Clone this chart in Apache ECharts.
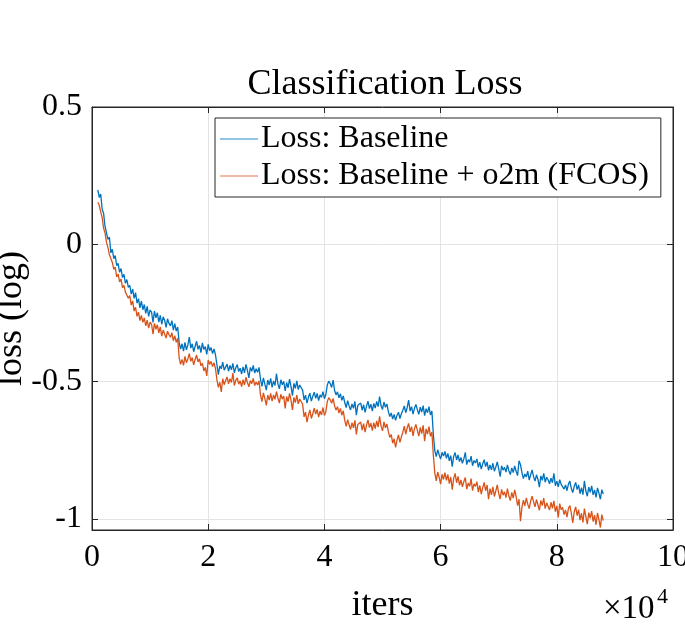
<!DOCTYPE html>
<html>
<head>
<meta charset="utf-8">
<script src="https://cdn.jsdelivr.net/npm/echarts@6/dist/echarts.min.js"></script>
<style>
  html, body { margin: 0; padding: 0; background: #fff; }
  #main { width: 685px; height: 626px; }
</style>
</head>
<body>
<div id="main"></div>
<script>
// 分类损失曲线 (MATLAB 风格)

var iterStart = 1000;
var iterStep = 250;

var seriesNames = ['Loss: Baseline', 'Loss: Baseline + o2m (FCOS)'];

var yTicks = [-1, -0.5, 0, 0.5];

// Loss: Baseline  (每行 10 个点, 即 2500 iters)
var lossBaseline = [
  0.198, 0.171, 0.183, 0.128, 0.112, 0.064, 0.071, 0.018, 0.026, -0.031,
  -0.018, -0.052, -0.041, -0.078, -0.069, -0.102, -0.088, -0.121, -0.109, -0.142,
  -0.128, -0.157, -0.149, -0.181, -0.163, -0.197, -0.176, -0.214, -0.198, -0.231,
  -0.207, -0.238, -0.219, -0.251, -0.226, -0.262, -0.239, -0.247, -0.284, -0.243,
  -0.268, -0.249, -0.283, -0.259, -0.291, -0.264, -0.276, -0.302, -0.271, -0.288,
  -0.297, -0.278, -0.312, -0.289, -0.316, -0.301, -0.358, -0.381, -0.362, -0.389,
  -0.357, -0.384, -0.366, -0.338, -0.378, -0.362, -0.391, -0.371, -0.353, -0.382,
  -0.368, -0.394, -0.359, -0.383, -0.372, -0.401, -0.364, -0.387, -0.376, -0.398,
  -0.381, -0.402, -0.438, -0.474, -0.442, -0.453, -0.429, -0.458, -0.447, -0.436,
  -0.462, -0.441, -0.457, -0.433, -0.468, -0.449, -0.438, -0.463, -0.451, -0.472,
  -0.446, -0.468, -0.437, -0.459, -0.486, -0.448, -0.462, -0.441, -0.469, -0.453,
  -0.466, -0.448, -0.492, -0.517, -0.486, -0.509, -0.531, -0.494, -0.512, -0.488,
  -0.521, -0.497, -0.514, -0.471, -0.508, -0.526, -0.493, -0.511, -0.499, -0.534,
  -0.503, -0.522, -0.491, -0.517, -0.551, -0.506, -0.524, -0.497, -0.529, -0.512,
  -0.518, -0.531, -0.566, -0.549, -0.578, -0.557, -0.542, -0.571, -0.553, -0.538,
  -0.561, -0.543, -0.569, -0.548, -0.557, -0.536, -0.562, -0.547, -0.512, -0.498,
  -0.507, -0.521, -0.494, -0.532, -0.548, -0.537, -0.559, -0.544, -0.568, -0.552,
  -0.576, -0.594, -0.569, -0.588, -0.603, -0.581, -0.597, -0.572, -0.622, -0.586,
  -0.593, -0.578, -0.604, -0.584, -0.612, -0.589, -0.571, -0.598, -0.582, -0.607,
  -0.579, -0.596, -0.572, -0.591, -0.554, -0.588, -0.601, -0.574, -0.593, -0.581,
  -0.608, -0.627, -0.614, -0.636, -0.619, -0.641, -0.622, -0.611, -0.634, -0.617,
  -0.604, -0.588, -0.613, -0.594, -0.567, -0.607, -0.591, -0.618, -0.597, -0.583,
  -0.602, -0.619, -0.593, -0.611, -0.587, -0.624, -0.598, -0.613, -0.591, -0.621,
  -0.607, -0.692, -0.751, -0.773, -0.748, -0.766, -0.782, -0.757, -0.771, -0.754,
  -0.779, -0.761, -0.788, -0.769, -0.809, -0.772, -0.758, -0.785, -0.767, -0.791,
  -0.776, -0.797, -0.781, -0.757, -0.802, -0.784, -0.793, -0.771, -0.806, -0.787,
  -0.796, -0.781, -0.812, -0.793, -0.818, -0.799, -0.784, -0.809, -0.792, -0.823,
  -0.803, -0.821, -0.797, -0.826, -0.811, -0.792, -0.817, -0.846, -0.806, -0.822,
  -0.812, -0.829, -0.803, -0.824, -0.838, -0.814, -0.831, -0.807, -0.826, -0.842,
  -0.788, -0.802, -0.831, -0.853, -0.836, -0.847, -0.826, -0.858, -0.839, -0.821,
  -0.846, -0.862, -0.839, -0.855, -0.884, -0.843, -0.859, -0.834, -0.866, -0.848,
  -0.857, -0.872, -0.851, -0.868, -0.834, -0.879, -0.862, -0.883, -0.857, -0.874,
  -0.868, -0.891, -0.876, -0.897, -0.873, -0.862, -0.889, -0.904, -0.881, -0.867,
  -0.893, -0.876, -0.908, -0.886, -0.911, -0.861, -0.898, -0.917, -0.884, -0.903,
  -0.879, -0.912, -0.894, -0.921, -0.887, -0.906, -0.928, -0.893, -0.909
];

// Loss: Baseline + o2m (FCOS)
var lossO2m = [
  0.153, 0.142, 0.118, 0.097, 0.058, 0.041, 0.006, -0.012, -0.038, -0.052,
  -0.066, -0.091, -0.083, -0.119, -0.108, -0.137, -0.126, -0.158, -0.149, -0.174,
  -0.168, -0.196, -0.187, -0.221, -0.206, -0.243, -0.229, -0.262, -0.247, -0.278,
  -0.259, -0.284, -0.268, -0.297, -0.276, -0.305, -0.283, -0.291, -0.327, -0.288,
  -0.309, -0.293, -0.322, -0.301, -0.334, -0.312, -0.319, -0.341, -0.316, -0.329,
  -0.338, -0.322, -0.351, -0.333, -0.357, -0.342, -0.413, -0.437, -0.419, -0.441,
  -0.408, -0.431, -0.417, -0.398, -0.426, -0.412, -0.439, -0.419, -0.403, -0.428,
  -0.417, -0.442, -0.433, -0.461, -0.448, -0.479, -0.421, -0.437, -0.426, -0.445,
  -0.431, -0.452, -0.493, -0.521, -0.502, -0.537, -0.489, -0.511, -0.496, -0.483,
  -0.508, -0.489, -0.503, -0.469, -0.514, -0.495, -0.486, -0.509, -0.497, -0.518,
  -0.493, -0.512, -0.484, -0.503, -0.519, -0.496, -0.507, -0.488, -0.514, -0.501,
  -0.512, -0.497, -0.548, -0.573, -0.541, -0.562, -0.586, -0.549, -0.567, -0.543,
  -0.571, -0.548, -0.564, -0.536, -0.559, -0.578, -0.546, -0.563, -0.552, -0.597,
  -0.554, -0.573, -0.543, -0.568, -0.603, -0.557, -0.576, -0.549, -0.581, -0.563,
  -0.568, -0.582, -0.628, -0.611, -0.647, -0.622, -0.603, -0.634, -0.617, -0.596,
  -0.618, -0.601, -0.629, -0.607, -0.621, -0.594, -0.623, -0.609, -0.572, -0.558,
  -0.566, -0.579, -0.561, -0.588, -0.603, -0.591, -0.614, -0.597, -0.622, -0.606,
  -0.641, -0.663, -0.638, -0.657, -0.674, -0.649, -0.668, -0.641, -0.692, -0.656,
  -0.662, -0.647, -0.676, -0.653, -0.684, -0.658, -0.639, -0.667, -0.651, -0.678,
  -0.649, -0.671, -0.643, -0.665, -0.626, -0.662, -0.679, -0.646, -0.668, -0.654,
  -0.681, -0.703, -0.692, -0.724, -0.708, -0.739, -0.712, -0.694, -0.721, -0.701,
  -0.684, -0.662, -0.691, -0.668, -0.652, -0.683, -0.664, -0.697, -0.671, -0.656,
  -0.677, -0.698, -0.666, -0.689, -0.659, -0.717, -0.672, -0.691, -0.664, -0.699,
  -0.684, -0.768, -0.832, -0.861, -0.829, -0.848, -0.873, -0.837, -0.856, -0.831,
  -0.859, -0.838, -0.871, -0.847, -0.893, -0.852, -0.834, -0.868, -0.845, -0.877,
  -0.858, -0.883, -0.864, -0.849, -0.891, -0.869, -0.881, -0.853, -0.897, -0.872,
  -0.881, -0.864, -0.902, -0.878, -0.909, -0.886, -0.867, -0.897, -0.876, -0.928,
  -0.889, -0.912, -0.883, -0.918, -0.898, -0.876, -0.907, -0.927, -0.892, -0.913,
  -0.901, -0.922, -0.889, -0.916, -0.933, -0.903, -0.924, -0.894, -0.918, -0.951,
  -0.928, -1.008, -0.957, -0.931, -0.952, -0.923, -0.946, -0.962, -0.934, -0.917,
  -0.937, -0.956, -0.929, -0.948, -0.968, -0.932, -0.951, -0.924, -0.962, -0.941,
  -0.946, -0.967, -0.939, -0.961, -0.934, -0.973, -0.952, -0.994, -0.944, -0.966,
  -0.958, -0.984, -0.967, -0.993, -0.962, -0.951, -0.979, -1.014, -0.973, -0.956,
  -0.988, -0.966, -1.004, -0.979, -1.012, -0.962, -0.991, -1.019, -0.977, -0.998,
  -0.971, -1.009, -0.986, -1.021, -0.978, -1.002, -1.031, -0.984, -1.006
];

function toPairs(values) {
  return values.map(function (v, i) {
    return [iterStart + i * iterStep, v];
  });
}

var font = "'Liberation Serif', 'Times New Roman', serif";
var ink = '#262626';

var chart = echarts.init(document.getElementById('main'), null, { renderer: 'canvas' });

var tickStyle = { show: true, inside: true, length: 6, lineStyle: { color: ink, width: 1 } };
var lineAxis = { show: true, onZero: false, lineStyle: { color: ink, width: 1 } };

var option = {
  animation: false,
  backgroundColor: '#fff',
  color: ['#0072BD', '#D95319'],
  title: {
    text: 'Classification Loss',
    left: 380,
    top: 62,
    textAlign: 'center',
    textStyle: { fontFamily: font, fontSize: 36, fontWeight: 'normal', color: '#000' }
  },
  grid: {
    left: 92, right: 12, top: 107, bottom: 96,
    outerBoundsMode: 'none',
    containLabel: false,
    show: true, borderColor: ink, borderWidth: 1, backgroundColor: '#fff'
  },
  legend: {
    data: [
      { name: seriesNames[0], itemStyle: { color: '#6FB0DD' } },
      { name: seriesNames[1], itemStyle: { color: '#EBA586' } }
    ],
    orient: 'vertical',
    left: 215,
    top: 118,
    icon: 'rect',
    itemWidth: 38,
    itemHeight: 1.5,
    itemGap: 3,
    padding: [4, 12, 4, 5],
    borderColor: ink,
    borderWidth: 1,
    backgroundColor: '#fff',
    textStyle: { fontFamily: font, fontSize: 32, color: '#000', lineHeight: 34, padding: [0, 0, 0, -2] }
  },
  xAxis: [
    {
      type: 'value',
      min: 0, max: 100000, interval: 20000,
      name: 'iters',
      nameLocation: 'middle',
      nameGap: 58,
      nameMoveOverlap: false,
      nameTextStyle: { fontFamily: font, fontSize: 36, color: '#000' },
      axisLine: lineAxis,
      axisTick: tickStyle,
      axisLabel: {
        margin: 12,
        fontFamily: font, fontSize: 32, color: '#000',
        formatter: function (v) { return String(v / 10000); }
      },
      splitLine: { show: true, lineStyle: { color: '#E3E3E3', width: 1 } }
    },
    {
      type: 'value',
      position: 'top',
      min: 0, max: 100000, interval: 20000,
      axisLine: lineAxis,
      axisTick: tickStyle,
      axisLabel: { show: false },
      splitLine: { show: false }
    }
  ],
  yAxis: [
    {
      type: 'value',
      min: -1.04, max: 0.5,
      name: 'loss (log)',
      nameLocation: 'middle',
      nameGap: 62,
      nameMoveOverlap: false,
      nameTextStyle: { fontFamily: font, fontSize: 36, color: '#000' },
      axisLine: lineAxis,
      axisTick: Object.assign({ customValues: yTicks }, tickStyle),
      axisLabel: {
        customValues: yTicks,
        margin: 10,
        fontFamily: font, fontSize: 32, color: '#000',
        formatter: function (v) { return String(v); }
      },
      splitLine: { show: true, lineStyle: { color: '#E3E3E3', width: 1 } }
    },
    {
      type: 'value',
      position: 'right',
      min: -1.04, max: 0.5,
      axisLine: lineAxis,
      axisTick: Object.assign({ customValues: yTicks }, tickStyle),
      axisLabel: { show: false },
      splitLine: { show: false }
    }
  ],
  graphic: [
    {
      type: 'text',
      style: { x: 603, y: 609, text: '×10', fontFamily: font, fontSize: 33, fill: '#000',
               textAlign: 'left', textVerticalAlign: 'middle' }
    },
    {
      type: 'text',
      style: { x: 657, y: 597, text: '4', fontFamily: font, fontSize: 22, fill: '#000',
               textAlign: 'left', textVerticalAlign: 'middle' }
    }
  ],
  series: [
    {
      name: seriesNames[0],
      type: 'line',
      data: toPairs(lossBaseline),
      showSymbol: false,
      lineStyle: { width: 1.3, color: '#0072BD' },
      itemStyle: { color: '#0072BD' },
      z: 2
    },
    {
      name: seriesNames[1],
      type: 'line',
      data: toPairs(lossO2m),
      showSymbol: false,
      lineStyle: { width: 1.3, color: '#D95319' },
      itemStyle: { color: '#D95319' },
      z: 3
    }
  ]
};

chart.setOption(option);
</script>
</body>
</html>
